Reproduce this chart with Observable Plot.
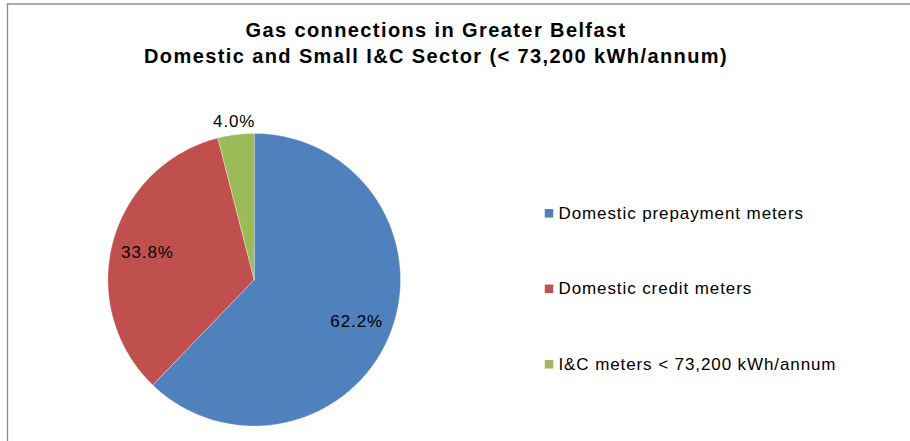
<!DOCTYPE html>
<html>
<head>
<meta charset="utf-8">
<script src="https://cdn.jsdelivr.net/npm/d3@7"></script>
<script src="https://cdn.jsdelivr.net/npm/@observablehq/plot@0.6"></script>
<style>
  html, body { margin: 0; padding: 0; background: #fff; }
  svg { display: block; }
</style>
</head>
<body>
<div id="chart"></div>
<script>
// ---- data ----
const titleLines = ["Gas connections in Greater Belfast", "Domestic and Small I&C Sector (< 73,200 kWh/annum)"];
const categories = ["Domestic prepayment meters", "Domestic credit meters", "I&C meters < 73,200 kWh/annum"];
const shares = [62.2, 33.8, 4.0];
const colors = ["#4F81BD", "#C0504D", "#9BBB59"];

// ---- layout ----
const W = 910, H = 441;
const cx = 253.7, cy = 279.2, R = 146.3;
const font = "Liberation Sans, Arial, sans-serif";

const rows = categories.map((name, i) => ({name, value: shares[i]}));
const arcs = d3.pie().value(d => d.value).sort(null)(rows);

// slice outlines sampled along each arc (angle 0 = 12 o'clock, clockwise)
const slicePts = [];
for (const a of arcs) {
  const n = Math.max(8, Math.ceil((a.endAngle - a.startAngle) / (Math.PI / 180)));
  slicePts.push({name: a.data.name, x: cx, y: cy});
  for (let k = 0; k <= n; k++) {
    const t = a.startAngle + (a.endAngle - a.startAngle) * k / n;
    slicePts.push({name: a.data.name, x: cx + R * Math.sin(t), y: cy - R * Math.cos(t)});
  }
  slicePts.push({name: a.data.name, x: cx, y: cy});
}

const labels = arcs.map(a => {
  const mid = (a.startAngle + a.endAngle) / 2;
  const f = a.data.value < 10 ? 1.09 : 0.755;
  return {
    text: a.data.value.toFixed(1) + "%",
    x: cx + f * R * Math.sin(mid),
    y: cy - f * R * Math.cos(mid)
  };
});

const titleRows = titleLines.map((t, i) => ({text: t, x: 435.5, y: 36 + i * 26}));
const legendRows = categories.map((name, i) => ({name, x: 548.5, y: 212.8 + i * 75.5}));

const chart = Plot.plot({
  width: W,
  height: H,
  margin: 0,
  x: {domain: [0, W], range: [0, W], axis: null},
  y: {domain: [0, H], range: [0, H], axis: null},
  color: {domain: categories, range: colors},
  style: {fontFamily: font, background: "#fff"},
  marks: [
    // chart border (top and left edges)
    Plot.ruleY([3.5], {x1: 7, x2: W, stroke: "#8c8c8c", strokeWidth: 1.3}),
    Plot.ruleX([7], {y1: 3.5, y2: H, stroke: "#8c8c8c", strokeWidth: 1.3}),
    // pie slices
    Plot.line(slicePts, {x: "x", y: "y", z: "name", fill: "name", stroke: "#ffffff", strokeOpacity: 0.45, strokeWidth: 0.7, curve: "linear"}),
    // slice labels
    Plot.text(labels, {x: "x", y: "y", text: "text", fontSize: 17, fill: "#000", textAnchor: "middle", lineAnchor: "middle", dy: 0.5}),
    // title
    Plot.text(titleRows, {x: "x", y: "y", text: "text", fontSize: 20, fontWeight: "bold", fill: "#000", textAnchor: "middle", lineAnchor: "bottom"}),
    // legend
    Plot.dot(legendRows, {x: "x", y: "y", fill: "name", symbol: "square", r: 4.8, stroke: null}),
    Plot.text(legendRows, {x: d => d.x + 9.5, y: d => d.y + 5.5, text: "name", fontSize: 17, fill: "#000", textAnchor: "start", lineAnchor: "bottom"})
  ]
});

// letter spacing to mimic the reference's wide glyph spacing
chart.querySelectorAll("g[aria-label='text']").forEach(g => {
  const fs = +g.getAttribute("font-size");
  g.style.letterSpacing = (fs >= 20 ? 1.4 : 0.9) + "px";
});

document.getElementById("chart").appendChild(chart);
</script>
</body>
</html>
